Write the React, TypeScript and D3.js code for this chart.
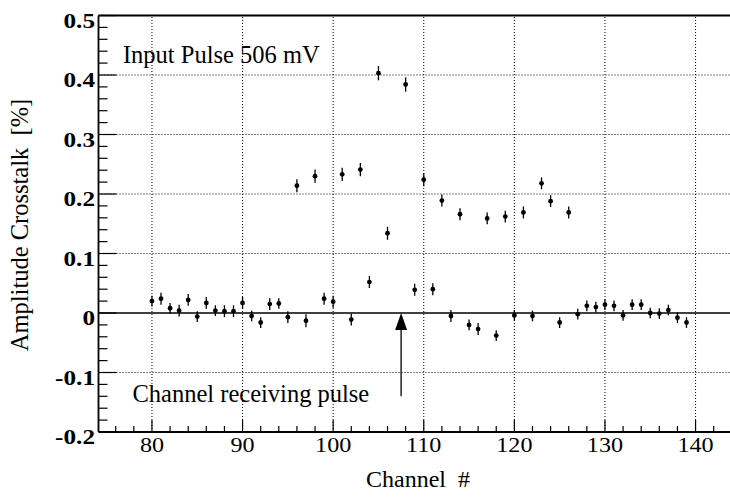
import React from "react";
import * as d3 from "d3";

const channels = [80,81,82,83,84,85,86,87,88,89,90,91,92,93,94,95,96,97,98,99,100,101,102,103,104,105,106,108,109,110,111,112,113,114,115,116,117,118,119,120,121,122,123,124,125,126,127,128,129,130,131,132,133,134,135,136,137,138,139];
const crosstalk = [0.020,0.024,0.008,0.004,0.022,-0.006,0.017,0.004,0.003,0.003,0.017,-0.005,-0.016,0.015,0.016,-0.007,0.214,-0.013,0.230,0.024,0.019,0.233,-0.011,0.241,0.052,0.403,0.134,0.384,0.039,0.224,0.040,0.189,-0.005,0.166,-0.020,-0.027,0.159,-0.038,0.162,-0.004,0.169,-0.005,0.218,0.188,-0.016,0.169,-0.002,0.012,0.010,0.014,0.012,-0.004,0.014,0.014,0.000,-0.001,0.005,-0.008,-0.016];
const errors = [0.009,0.010,0.009,0.010,0.010,0.009,0.010,0.009,0.010,0.010,0.010,0.009,0.009,0.010,0.009,0.010,0.011,0.011,0.011,0.010,0.010,0.011,0.010,0.011,0.010,0.012,0.011,0.012,0.010,0.011,0.010,0.010,0.010,0.010,0.009,0.010,0.010,0.009,0.010,0.009,0.010,0.009,0.010,0.010,0.009,0.010,0.009,0.009,0.009,0.009,0.009,0.009,0.009,0.009,0.009,0.009,0.009,0.009,0.009];

const xMajorTicks = [80, 90, 100, 110, 120, 130, 140];
const xMinorTicks = [76, 78, 82, 84, 86, 88, 92, 94, 96, 98, 102, 104, 106, 108, 112, 114, 116, 118, 122, 124, 126, 128, 132, 134, 136, 138, 142, 144];
const yMajorTicks = [-0.2, -0.1, 0, 0.1, 0.2, 0.3, 0.4, 0.5];
const yTickLabels = ["-0.2", "-0.1", "0", "0.1", "0.2", "0.3", "0.4", "0.5"];
const yGridTicks = [-0.1, 0.1, 0.2, 0.3, 0.4];

const xTitle = "Channel\u00a0\u00a0#";
const yTitle = "Amplitude Crosstalk\u00a0\u00a0[%]";
const topNote = "Input Pulse 506 mV";
const arrowNote = "Channel receiving pulse";
const pulseChannel = 107.5;

export default function App() {
  const W = 730, H = 498;
  const x = d3.scaleLinear().domain([74.1, 144]).range([98.5, 731.8]);
  const y = d3.scaleLinear().domain([-0.2, 0.5]).range([432, 15.5]);
  const yMinor = d3.range(-0.2, 0.5001, 0.02).map(v => +v.toFixed(3));
  const left = 98.5, bottom = 432, top = 15.5;

  return (
    <div style={{ position: "absolute", left: 0, top: 0, width: W, height: H, fontFamily: "Liberation Serif" }}>
    <svg width={W} height={H} style={{ display: "block", background: "#fff" }} fontFamily="Liberation Serif">
      {/* grid */}
      {xMajorTicks.map(t => (
        <line key={"gx" + t} x1={x(t)} x2={x(t)} y1={bottom} y2={top} stroke="#000" strokeWidth={1} strokeDasharray="1,2" />
      ))}
      {yGridTicks.map(t => (
        <line key={"gy" + t} x1={left} x2={W} y1={y(t)} y2={y(t)} stroke="#000" strokeWidth={1} strokeDasharray="1,2" />
      ))}
      {/* zero line and frame */}
      <line x1={left} x2={W} y1={y(0)} y2={y(0)} stroke="#000" strokeWidth={1.3} />
      <line x1={left} x2={W} y1={top} y2={top} stroke="#000" strokeWidth={1.8} />
      <line x1={left} x2={W} y1={bottom} y2={bottom} stroke="#000" strokeWidth={1.8} />
      <line x1={left} x2={left} y1={top} y2={bottom} stroke="#000" strokeWidth={1.8} />
      {/* x ticks */}
      {xMajorTicks.map(t => (
        <line key={"xt" + t} x1={x(t)} x2={x(t)} y1={bottom} y2={bottom - 12} stroke="#000" strokeWidth={1.2} />
      ))}
      {xMinorTicks.map(t => (
        <line key={"xm" + t} x1={x(t)} x2={x(t)} y1={bottom} y2={bottom - 6} stroke="#000" strokeWidth={1.2} />
      ))}
      {xMajorTicks.map(t => (
        <g key={"xl" + t} transform={`translate(${x(t)},${452}) scale(1.15,1)`}>
          <text textAnchor="middle" fontSize={21} fontFamily="Liberation Serif">{t}</text>
        </g>
      ))}
      {/* y ticks */}
      {yMinor.map(t => {
        const isMajor = Math.abs(Math.round(t * 10) - t * 10) < 1e-6;
        return <line key={"ym" + t} x1={left} x2={left + (isMajor ? 18 : 9)} y1={y(t)} y2={y(t)} stroke="#000" strokeWidth={1.2} />;
      })}
      {yMajorTicks.map((t, i) => (
        <g key={"yl" + t} transform={`translate(${95},${y(t) + 12}) scale(1.2,1)`}>
          <text textAnchor="end" fontSize={21} fontWeight="bold" fontFamily="Liberation Serif">{yTickLabels[i]}</text>
        </g>
      ))}
      {/* titles */}
      <text x={418} y={487} textAnchor="middle" fontSize={24} fontFamily="Liberation Serif">{xTitle}</text>
      <text transform={`translate(28,225) rotate(-90)`} textAnchor="middle" fontSize={24.5} fontFamily="Liberation Serif">{yTitle}</text>
      {/* annotations */}
      <text x={x(76.8)} y={y(0.421)} fontSize={24.5} fontFamily="Liberation Serif">{topNote}</text>
      <text x={x(77.85)} y={y(-0.149)} fontSize={24.5} fontFamily="Liberation Serif">{arrowNote}</text>
      <line x1={x(pulseChannel)} x2={x(pulseChannel)} y1={y(-0.14)} y2={y(-0.02)} stroke="#000" strokeWidth={1.3} />
      <path d={`M${x(pulseChannel)},${y(0)} L${x(pulseChannel) - 6},${y(0) + 17} L${x(pulseChannel) + 6},${y(0) + 17} Z`} fill="#000" />
      {/* data */}
      {channels.map((c, i) => (
        <g key={"p" + c}>
          <line x1={x(c)} x2={x(c)} y1={y(crosstalk[i] - errors[i])} y2={y(crosstalk[i] + errors[i])} stroke="#000" strokeWidth={1.3} />
          <circle cx={x(c)} cy={y(crosstalk[i])} r={2.4} fill="#000" />
        </g>
      ))}
    </svg>
    </div>
  );
}
